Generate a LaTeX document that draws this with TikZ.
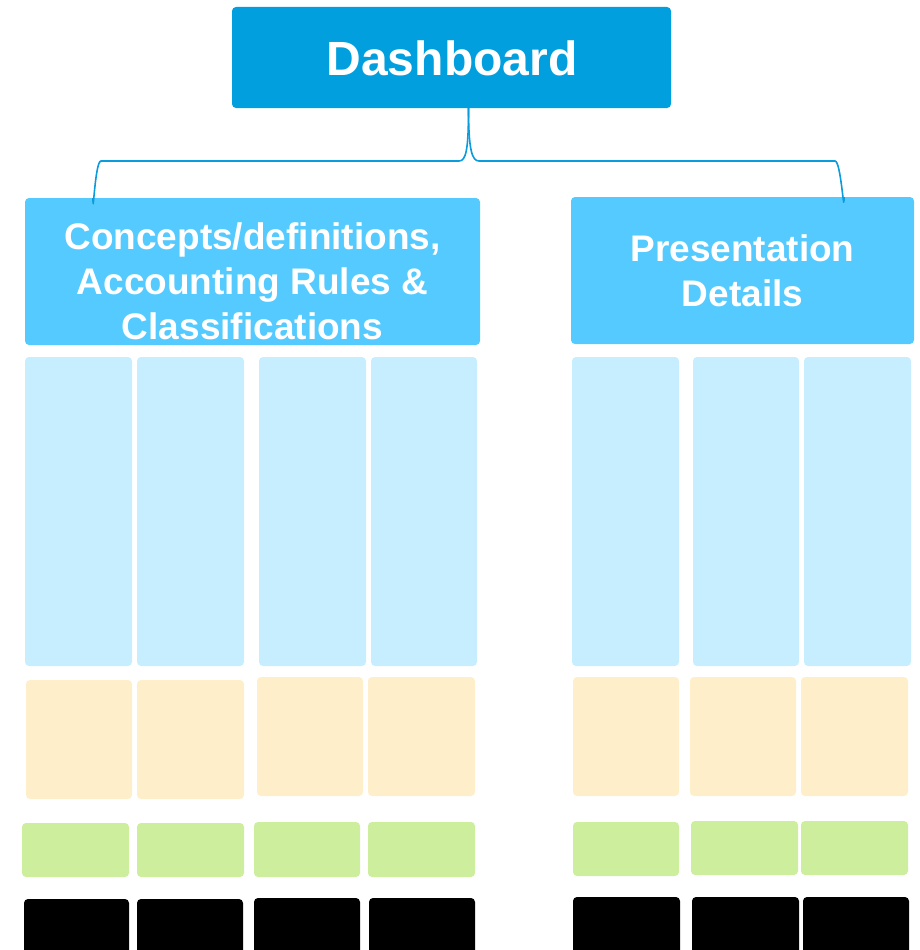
\documentclass[tikz,border=0pt]{standalone}
\usepackage{fontspec}
\setmainfont{Liberation Sans}
\definecolor{dashc}{HTML}{029FDF}
\definecolor{headc}{HTML}{55CAFE}
\definecolor{lblue}{HTML}{C6EEFE}
\definecolor{beige}{HTML}{FEEFCA}
\definecolor{lgreen}{HTML}{CCEE9D}
\definecolor{linkc}{HTML}{0A9CDC}
\tikzset{
  cell/.style={rectangle, rounded corners=4pt, draw=none, inner sep=0pt, outer sep=0pt, anchor=north west},
  dashbox/.style={cell, fill=dashc},
  headbox/.style={cell, fill=headc},
  bluebox/.style={cell, fill=lblue},
  beigebox/.style={cell, fill=beige},
  greenbox/.style={cell, fill=lgreen},
  blackbox/.style={cell, fill=black},
  headtext/.style={text=white, font=\bfseries\fontsize{37}{45}\selectfont, align=center, inner sep=0pt},
  link/.style={draw=linkc, line width=1.6pt}
}
\newcommand{\cellat}[6]{%
  \node[#6, minimum width=#4pt, minimum height=#5pt] (#1) at (#2,#3) {};}
\begin{document}
\begin{tikzpicture}[x=1pt,y=-1pt]
\path[use as bounding box] (0,0) rectangle (920,950);
% top
\node[dashbox, minimum width=439pt, minimum height=101pt] (dash) at (232,7) {};
\node[text=white, font=\bfseries\fontsize{48}{50}\selectfont, inner sep=0pt] (dashtxt) at (452,58) {Dashboard};
% headers
\node[headbox, minimum width=455pt, minimum height=147pt] (lefthead) at (25,198) {};
\node[headbox, minimum width=343pt, minimum height=147pt] (righthead) at (571,197) {};
\node[headtext] (lefttxt) at (252.5,281) {Concepts/definitions,\\Accounting Rules \&\\Classifications};
\node[headtext] (righttxt) at (742.5,271) {Presentation\\Details};
% connectors
\coordinate (c0) at ([xshift=17pt]dash.south);
\coordinate (cl) at ([xshift=68pt]lefthead.north west);
\coordinate (cr) at ([xshift=273pt]righthead.north west);
\draw[link] (c0) .. controls ([yshift=-42pt]c0) and (466,161) .. (459,161) -- (101,161) .. controls (95,161) and ([yshift=-23pt]cl) .. (cl);
\draw[link] (c0) .. controls ([yshift=-42pt]c0) and (472,161) .. (479,161) -- (835,161) .. controls (841,161) and ([yshift=-22pt]cr) .. (cr);
% light blue columns
\cellat{b1}{25}{357}{107}{309}{bluebox}
\cellat{b2}{137}{357}{107}{309}{bluebox}
\cellat{b3}{259}{357}{107}{309}{bluebox}
\cellat{b4}{371}{357}{106}{309}{bluebox}
\cellat{b5}{572}{357}{107}{309}{bluebox}
\cellat{b6}{693}{357}{106}{309}{bluebox}
\cellat{b7}{804}{357}{107}{309}{bluebox}
% beige
\cellat{y1}{26}{680}{106}{119}{beigebox}
\cellat{y2}{137}{680}{107}{119}{beigebox}
\cellat{y3}{257}{677}{106}{119}{beigebox}
\cellat{y4}{368}{677}{107}{119}{beigebox}
\cellat{y5}{573}{677}{106}{119}{beigebox}
\cellat{y6}{690}{677}{106}{119}{beigebox}
\cellat{y7}{801}{677}{107}{119}{beigebox}
% green
\cellat{g1}{22}{823}{107}{54}{greenbox}
\cellat{g2}{137}{823}{107}{54}{greenbox}
\cellat{g3}{254}{822}{106}{55}{greenbox}
\cellat{g4}{368}{822}{107}{55}{greenbox}
\cellat{g5}{573}{822}{106}{54}{greenbox}
\cellat{g6}{691}{821}{107}{54}{greenbox}
\cellat{g7}{801}{821}{107}{54}{greenbox}
% black
\cellat{k1}{24}{899}{105}{70}{blackbox}
\cellat{k2}{137}{899}{106}{70}{blackbox}
\cellat{k3}{254}{898}{106}{70}{blackbox}
\cellat{k4}{369}{898}{106}{70}{blackbox}
\cellat{k5}{573}{897}{107}{70}{blackbox}
\cellat{k6}{692}{897}{107}{70}{blackbox}
\cellat{k7}{803}{897}{106}{70}{blackbox}
\end{tikzpicture}
\end{document}
